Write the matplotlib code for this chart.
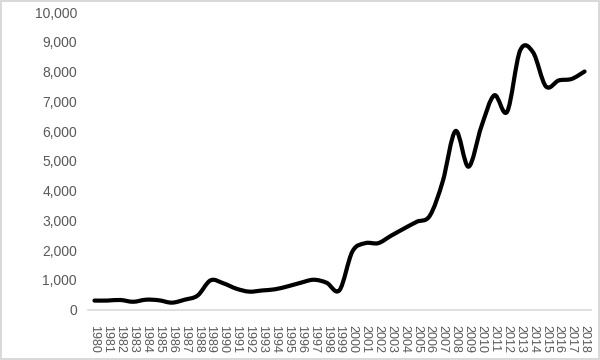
import matplotlib.pyplot as plt
from matplotlib.path import Path
from matplotlib.patches import PathPatch
from matplotlib.ticker import FuncFormatter

years = list(range(1980, 2019))
values = [300, 300, 320, 260, 330, 310, 230, 330, 470, 980,
          880, 700, 600, 640, 680, 780, 900, 1000, 900, 650,
          1950, 2230, 2230, 2480, 2720, 2950, 3150, 4300, 6000, 4800,
          6150, 7200, 6650, 8700, 8650, 7500, 7700, 7750, 8000]


def smooth_path(xs, ys):
    # excel-like smoothed line: cubic bezier segments, catmull-rom control points
    pts = list(zip(xs, ys))
    n = len(pts)
    verts = [pts[0]]
    codes = [Path.MOVETO]
    for i in range(n - 1):
        p0 = pts[i - 1] if i > 0 else pts[i]
        p1 = pts[i]
        p2 = pts[i + 1]
        p3 = pts[i + 2] if i + 2 < n else pts[i + 1]
        c1 = (p1[0] + (p2[0] - p0[0]) / 6, p1[1] + (p2[1] - p0[1]) / 6)
        c2 = (p2[0] - (p3[0] - p1[0]) / 6, p2[1] - (p3[1] - p1[1]) / 6)
        verts += [c1, c2, p2]
        codes += [Path.CURVE4] * 3
    return Path(verts, codes)


plt.rcParams['font.family'] = ['Liberation Sans', 'DejaVu Sans']

fig = plt.figure(figsize=(6, 3.6), dpi=100)
fig.patch.set_edgecolor('#d9d9d9')
fig.patch.set_linewidth(1.5)
ax = fig.add_axes([88 / 600, 50.5 / 360, 503 / 600, 297.5 / 360])

idx = list(range(len(years)))
patch = PathPatch(smooth_path(idx, values), facecolor='none', edgecolor='black',
                  linewidth=3, capstyle='round', joinstyle='round')
ax.add_patch(patch)

ax.set_xlim(-0.5, len(years) - 0.5)
ax.set_ylim(0, 10000)
ax.set_yticks(range(0, 10001, 1000))
ax.yaxis.set_major_formatter(FuncFormatter(lambda v, p: f'{int(v):,}'))
ax.set_xticks(idx)
ax.set_xticklabels([str(y) for y in years], rotation=270)

for s in ['top', 'right', 'left']:
    ax.spines[s].set_visible(False)
ax.spines['bottom'].set_color('#d9d9d9')
ax.spines['bottom'].set_linewidth(1.2)
ax.tick_params(axis='both', length=0, colors='#595959', labelsize=10)
ax.tick_params(axis='x', pad=11.5, labelsize=9)
ax.tick_params(axis='y', pad=8)

fig.savefig('out.png', dpi=100)
